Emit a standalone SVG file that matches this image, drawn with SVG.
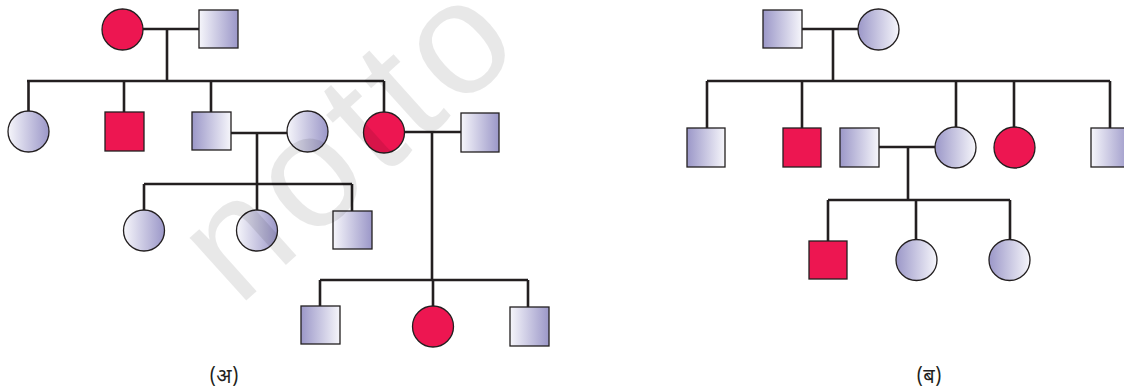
<svg xmlns="http://www.w3.org/2000/svg" width="1124" height="392" viewBox="0 0 1124 392">
<style>
.ln{stroke:#231f20;stroke-width:2.6;fill:none;stroke-linecap:butt}
.nd{stroke:#231f20;stroke-width:1.3}
.red{fill:#ed1651}
.l2d{fill:url(#gL2D)}
.d2l{fill:url(#gD2L)}
.lab{font-family:"Noto Sans Devanagari","Lohit Devanagari","Noto Sans","DejaVu Sans",sans-serif;font-size:20px;fill:#231f20;text-anchor:middle}
.wm{font-family:"Liberation Sans",Arial,sans-serif;font-size:160px;letter-spacing:7px;fill:#000000;fill-opacity:0.09}
</style>
<defs>
<linearGradient id="gL2D" x1="0" y1="0" x2="1" y2="0">
<stop offset="0" stop-color="#f6f6fb"/>
<stop offset="1" stop-color="#9b97c8"/>
</linearGradient>
<linearGradient id="gD2L" x1="0" y1="0" x2="1" y2="0">
<stop offset="0" stop-color="#9b97c8"/>
<stop offset="1" stop-color="#f6f6fb"/>
</linearGradient>
</defs>
<rect width="1124" height="392" fill="#ffffff"/>
<g id="connectors">
<path class="ln" d="M143 29H199M167 29V81M27 81H384M28.5 81V111M124 81V112M211 81V112M384 81V112"/>
<path class="ln" d="M231 133H287M257 133V184M144 184H352M144 184V210M257 184V210M352 184V211"/>
<path class="ln" d="M404 132H461M432 132V280M320 280H528M320 280V306M433 280V306M528 280V307"/>
<path class="ln" d="M802 29H858M833 29V81M707 81H1110M707 81V128M802 81V128M956 81V127M1014 81V127M1110 81V128"/>
<path class="ln" d="M879 147H935M908 147V200M828 200H1010M828 200V241M916 200V239M1010 200V239"/>
</g>
<g id="A1"><circle class="nd red" cx="122.5" cy="29.5" r="20.5"/></g>
<g id="A2"><rect class="nd l2d" x="199" y="10" width="39" height="38"/></g>
<g id="B1"><circle class="nd l2d" cx="28.5" cy="131.5" r="20.5"/></g>
<g id="B2"><rect class="nd red" x="105" y="112" width="39" height="39"/></g>
<g id="B3"><rect class="nd d2l" x="192" y="112" width="39" height="38"/></g>
<g id="B4"><circle class="nd l2d" cx="307.5" cy="131.5" r="20.5"/></g>
<g id="B5"><circle class="nd red" cx="384" cy="132.5" r="20.5"/></g>
<g id="B6"><rect class="nd l2d" x="461" y="113" width="38" height="39"/></g>
<g id="C1"><circle class="nd l2d" cx="144" cy="230.5" r="20.5"/></g>
<g id="C2"><circle class="nd l2d" cx="257" cy="230.5" r="20.5"/></g>
<g id="C3"><rect class="nd l2d" x="333" y="211" width="39" height="38"/></g>
<g id="D1"><rect class="nd d2l" x="301" y="306" width="39" height="38"/></g>
<g id="D2"><circle class="nd red" cx="433" cy="326.5" r="20.5"/></g>
<g id="D3"><rect class="nd l2d" x="510" y="307" width="39" height="39"/></g>
<g id="E1"><rect class="nd d2l" x="763" y="10" width="39" height="38"/></g>
<g id="E2"><circle class="nd d2l" cx="878.5" cy="29.5" r="20.5"/></g>
<g id="F1"><rect class="nd d2l" x="687" y="128" width="38" height="39"/></g>
<g id="F2"><rect class="nd red" x="783" y="128" width="38" height="39"/></g>
<g id="F3"><rect class="nd d2l" x="840" y="128" width="39" height="39"/></g>
<g id="F4"><circle class="nd d2l" cx="955.5" cy="147.5" r="20.5"/></g>
<g id="F5"><circle class="nd red" cx="1014.5" cy="147.5" r="20.5"/></g>
<g id="F6"><rect class="nd l2d" x="1091" y="128" width="39" height="39"/></g>
<g id="G1"><rect class="nd red" x="809" y="241" width="38" height="38"/></g>
<g id="G2"><circle class="nd d2l" cx="916.5" cy="260" r="20.5"/></g>
<g id="G3"><circle class="nd d2l" cx="1009.5" cy="260" r="20.5"/></g>
<g id="labels">
<text class="lab" x="224" y="383">(अ)</text>
<text class="lab" x="929" y="383">(ब)</text>
</g>
<text class="wm" x="0" y="0" transform="translate(238 308) rotate(-42)">notto</text>
</svg>
